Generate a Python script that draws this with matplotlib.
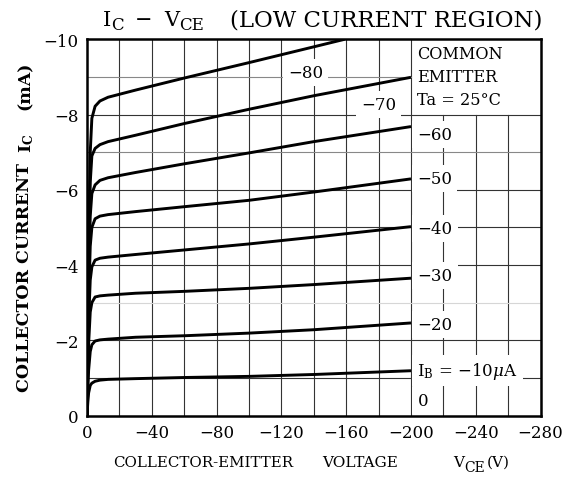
import matplotlib
matplotlib.use("Agg")
import matplotlib.pyplot as plt
import numpy as np

plt.rcParams["font.family"] = "DejaVu Serif"
plt.rcParams["mathtext.fontset"] = "dejavuserif"

W, H = 564, 481

# collector-emitter voltage points (V)
VCE = [0, -0.5, -1, -2, -3, -5, -8, -13, -30, -60, -100, -140, -200]
VCE_80 = [0, -0.5, -1, -2, -3, -5, -8, -13, -30, -60, -100, -140, -159]

# collector current (mA) per base current step
IC_10 = [0, -0.35, -0.60, -0.80, -0.86, -0.91, -0.94, -0.96, -0.98, -1.01, -1.04, -1.09, -1.19]
IC_20 = [0, -0.70, -1.20, -1.70, -1.88, -1.98, -2.01, -2.03, -2.08, -2.12, -2.19, -2.28, -2.46]
IC_30 = [0, -1.10, -1.90, -2.75, -3.00, -3.15, -3.18, -3.20, -3.25, -3.30, -3.38, -3.48, -3.65]
IC_40 = [0, -1.40, -2.50, -3.60, -3.95, -4.13, -4.18, -4.21, -4.28, -4.40, -4.56, -4.74, -5.02]
IC_50 = [0, -1.70, -3.00, -4.50, -5.00, -5.23, -5.30, -5.34, -5.42, -5.55, -5.72, -5.94, -6.29]
IC_60 = [0, -2.00, -3.50, -5.30, -5.90, -6.13, -6.25, -6.32, -6.46, -6.69, -6.98, -7.28, -7.68]
IC_70 = [0, -2.30, -4.00, -6.20, -6.90, -7.10, -7.20, -7.28, -7.45, -7.76, -8.14, -8.50, -8.99]
IC_80 = [0, -2.50, -4.50, -7.00, -7.90, -8.22, -8.36, -8.46, -8.65, -8.97, -9.38, -9.80, -10.0]

XTICKS = [0, -40, -80, -120, -160, -200, -240, -280]
YTICKS = [0, -2, -4, -6, -8, -10]

SIDE_LABELS = ["\u221260", "\u221250", "\u221240", "\u221230", "\u221220",
               "$\\mathrm{I_B}$ = \u221210$\\mu$A", "0"]
SIDE_Y = [-7.48, -6.29, -4.96, -3.72, -2.41, -1.19, -0.39]


def minus(v):
    return "0" if v == 0 else "\u2212" + str(abs(v))


def put(x, y, s, size, **kw):
    # place text by pixel position (baseline)
    kw.setdefault("va", "baseline")
    return fig.text(x / W, 1 - y / H, s, fontsize=size, **kw)


def put_runs(x, y, parts):
    # parts: (text, size, drop in px, gap after in px)
    r = fig.canvas.get_renderer()
    for s, size, dy, gap in parts:
        t = put(x, y + dy, s, size)
        x += t.get_window_extent(r).width + gap
    return x


fig = plt.figure(figsize=(W / 100, H / 100), dpi=100, facecolor="white")
ax = fig.add_axes([87 / W, 1 - 416.5 / H, 453.6 / W, 376.2 / H])
ax.set_xlim(0, -280)
ax.set_ylim(0, -10)

# grid: full height up to -200 V, right strip only below the legend box
for v in np.arange(-20, -281, -20):
    top = 1.0 if v >= -200 else 0.8
    ax.axvline(v, ymin=0, ymax=top, color="#333333", lw=0.8, zorder=1)
for i in np.arange(-1, -10, -1):
    right = 1.0 if i >= -8 else 200 / 280
    col = "#333333"
    if i == -3:
        col = "#d6d6d6"
    elif i in (-7, -9):
        col = "#888888"
    ax.axhline(i, xmin=0, xmax=right, color=col, lw=0.8, zorder=1)

curves = [
    (VCE, IC_10), (VCE, IC_20), (VCE, IC_30), (VCE, IC_40),
    (VCE, IC_50), (VCE, IC_60), (VCE, IC_70), (VCE_80, IC_80),
]
for v, ic in curves:
    ax.plot(v, ic, color="black", lw=2.1, solid_joinstyle="round",
            solid_capstyle="butt", zorder=4)

box = dict(boxstyle="square,pad=0.3", fc="white", ec="none")
fs = 12
ax.text(-135, -9.12, "\u221280", ha="center", va="center", fontsize=fs, bbox=box, zorder=3)
ax.text(-180, -8.26, "\u221270", ha="center", va="center", fontsize=fs, bbox=box, zorder=3)

for lab, y in zip(SIDE_LABELS, SIDE_Y):
    ax.text(-204, y, lab, ha="left", va="center", fontsize=fs, bbox=box, zorder=3)

for line, y in zip(["COMMON", "EMITTER", "Ta = 25\u00b0C"], [-9.61, -9.0, -8.41]):
    ax.text(-204, y, line, ha="left", va="center", fontsize=11.6, zorder=3)

ax.set_xticks(XTICKS)
ax.set_xticklabels([minus(v) for v in XTICKS])
ax.set_yticks(YTICKS)
ax.set_yticklabels([minus(v) for v in YTICKS])
ax.tick_params(length=0, pad=6, labelsize=12)
for s in ax.spines.values():
    s.set_linewidth(1.8)

# title, subscripts drawn as lowered runs
put_runs(103, 26, [
    ("I", 15, 0, 0), ("C", 12, 3.5, 11), ("\u2212", 15, 0, 12),
    ("V", 15, 0, 0), ("CE", 12, 4.5, 26), ("(LOW CURRENT REGION)", 16.5, 0, 0),
])

# x axis label
put(113, 467, "COLLECTOR-EMITTER", 10.8)
put(322, 467, "VOLTAGE", 11)
put_runs(453, 467, [("V", 11, 0, 0), ("CE", 10, 5, 2), ("(V)", 11, 0, 0)])

# y axis label
put(25, 278, "COLLECTOR CURRENT", 12.5, rotation=90, ha="center", va="center", fontweight="bold")
put(27, 143, r"$\mathbf{I_C}$", 12.5, rotation=90, ha="center", va="center")
put(25, 86, "(mA)", 12.5, rotation=90, ha="center", va="center", fontweight="bold")

fig.savefig("out.png", dpi=100, facecolor="white")
